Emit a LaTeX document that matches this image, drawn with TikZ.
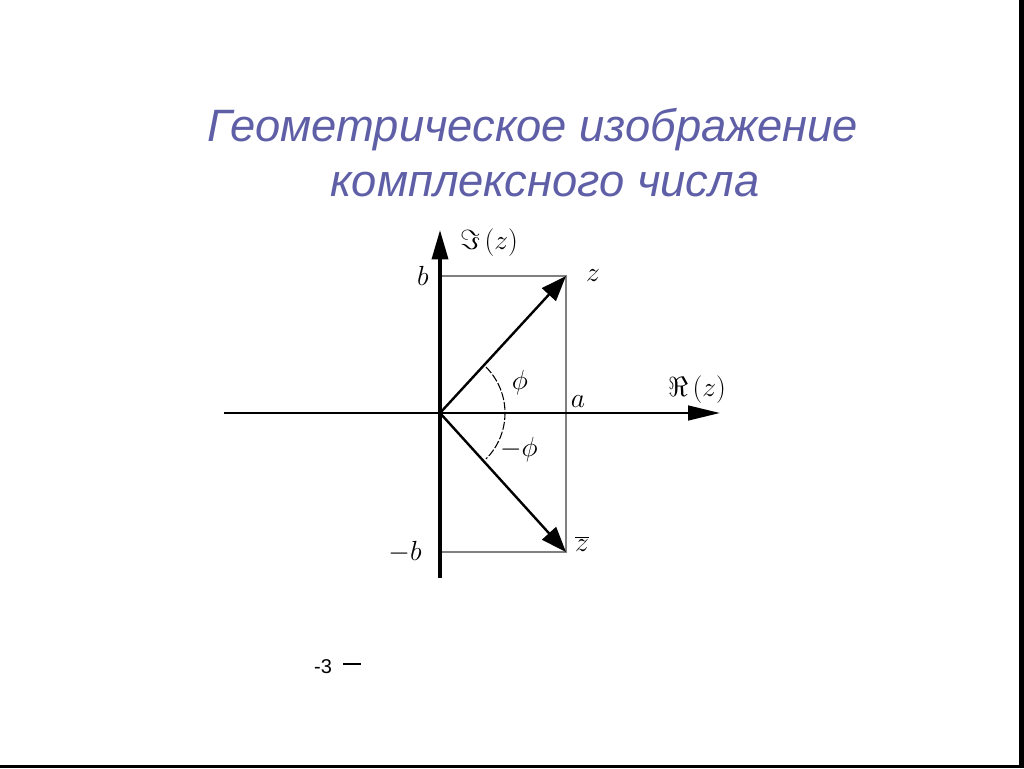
\documentclass[tikz,border=0pt]{standalone}
\usepackage{fontspec}
\setsansfont{Liberation Sans}
\usetikzlibrary{arrows.meta}
\definecolor{titlecol}{HTML}{5F5FA8}
\tikzset{
  axis/.style={line width=#1, -{Triangle[length=24pt,width=11pt]}},
  vec/.style={line width=1.8pt, -{Triangle[length=19pt,width=14pt]}},
  guide/.style={line width=0.8pt, gray},
  lbl/.style={inner sep=0pt, font=\fontsize{20}{24}\selectfont},
  ttl/.style={inner sep=0pt, text=titlecol, font=\sffamily\itshape\fontsize{34}{40}\selectfont}
}
\begin{document}
\begin{tikzpicture}[x=0.75pt,y=-0.75pt]
\useasboundingbox (0,0) rectangle (1024,768);
\fill[white] (0,0) rectangle (1024,768);
\fill[black] (1019,0) rectangle (1024,768);
\fill[black] (0,765) rectangle (1024,768);
% title
\node[ttl] (t1) at (533,130) {Геометрическое изображение};
\node[ttl] (t2) at (545,185) {комплексного числа};
% coordinates
\coordinate (O) at (440,413);
\coordinate (Z) at (566,276);
\coordinate (Zb) at (566,552);
\coordinate (B) at (440,276);
\coordinate (Bm) at (440,552);
\coordinate (xl) at (224,413);
\coordinate (xr) at (720,413);
\coordinate (yb) at (440,578);
\coordinate (yt) at (440,230);
% guides
\draw[guide] (B) -- (Z) -- (Zb) -- (Bm);
% axes
\draw[axis=1.9pt] (xl) -- (xr);
\draw[line width=2.6pt, -{Triangle[length=22pt,width=12pt]}] (yb) -- (yt);
% vectors
\draw[vec] (O) -- (Z);
\draw[vec] (O) -- (Zb);
% arc
\draw[line width=0.8pt, dash pattern=on 6pt off 1.5pt] (O) ++(-45:65) arc[start angle=-45, end angle=45, radius=65];
% labels
\node[lbl] (im) at (489,243) {$\Im\,(z)$};
\node[lbl] (lb) at (423,276) {$b$};
\node[lbl] (lz) at (593,276) {$z$};
\node[lbl] (lphi) at (520,383) {$\phi$};
\node[lbl] (la) at (578,402) {$a$};
\node[lbl] (re) at (697,390) {$\Re\,(z)$};
\node[lbl] (lmphi) at (519,450) {$-\phi$};
\node[lbl] (lmb) at (405,552) {$-b$};
\node[lbl] (lzb) at (582,544) {$\overline{z}$};
% footer
\node[inner sep=0pt, font=\sffamily\fontsize{15}{18}\selectfont] (num) at (323,667) {-3};
\coordinate (d1) at (343,664);
\coordinate (d2) at (361,664);
\draw[line width=0.8pt] (d1) -- (d2);
\end{tikzpicture}
\end{document}
